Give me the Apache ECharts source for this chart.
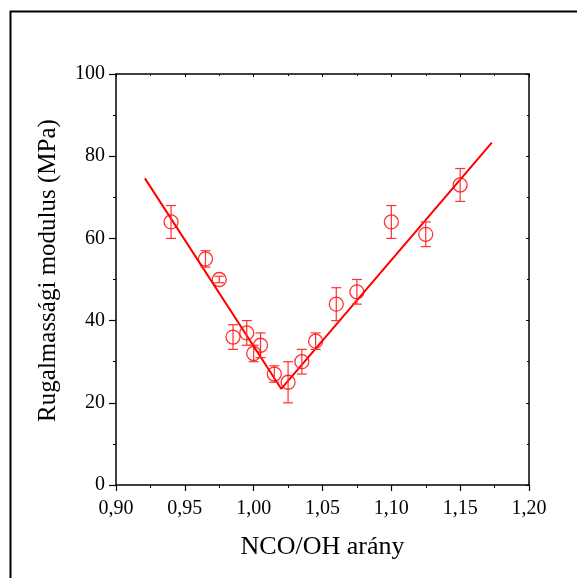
<!DOCTYPE html>
<html>
<head>
<meta charset="utf-8">
<script src="https://cdn.jsdelivr.net/npm/echarts@6/dist/echarts.min.js"></script>
<style>
html,body{margin:0;padding:0;background:#fff;}
#chart{width:577px;height:578px;}
</style>
</head>
<body>
<div id="chart"></div>
<script>
// Data
var ratio   = [0.94, 0.965, 0.975, 0.985, 0.995, 1.000, 1.005, 1.015, 1.025, 1.035, 1.045, 1.060, 1.075, 1.100, 1.125, 1.150];
var modulus = [64, 55, 50, 36, 37, 32, 34, 27, 25, 30, 35, 44, 47, 64, 61, 73];
var errors  = [4, 2, 0.8, 3, 3, 2, 3, 2, 5, 3, 2, 4, 3, 4, 3, 4];
var fitX = [0.921, 1.020, 1.173];
var fitY = [74.6, 23.4, 83.3];
var xTicks = [0.90, 0.95, 1.00, 1.05, 1.10, 1.15, 1.20];
var yTicks = [0, 20, 40, 60, 80, 100];

var font = 'Liberation Serif';
var red = '#ff0000';

var pts = ratio.map(function (x, i) { return [x, modulus[i]]; });
var errData = ratio.map(function (x, i) { return [x, modulus[i] - errors[i], modulus[i] + errors[i]]; });
var fitData = fitX.map(function (x, i) { return [x, fitY[i]]; });

var chart = echarts.init(document.getElementById('chart'), null, {renderer: 'canvas'});

function fmtX(v) { return v.toFixed(2).replace('.', ','); }

var option = {
  backgroundColor: '#fff',
  animation: false,
  grid: {left: 116, right: 48, top: 74, bottom: 93, containLabel: false},
  graphic: [{
    type: 'rect', left: 8, top: 9,
    shape: {x: 0, y: 0, width: 640, height: 640},
    style: {fill: 'none', stroke: '#000', lineWidth: 2},
    silent: true, z: 100
  }],
  xAxis: [{
    type: 'value', min: 0.9, max: 1.2, interval: 0.05, position: 'bottom',
    name: 'NCO/OH arány', nameLocation: 'middle', nameGap: 49,
    nameTextStyle: {fontFamily: font, fontSize: 26, color: '#000'},
    axisLine: {show: true, lineStyle: {color: '#000', width: 1.5}},
    axisTick: {show: true, length: 6, lineStyle: {color: '#000', width: 1.2}},
    minorTick: {show: true, splitNumber: 2, length: 3, lineStyle: {color: '#000', width: 1}},
    axisLabel: {fontFamily: font, fontSize: 20, color: '#000', margin: 14,
      formatter: function (v) { return fmtX(v); }},
    splitLine: {show: false}, minorSplitLine: {show: false}
  }, {
    type: 'value', min: 0.9, max: 1.2, interval: 0.05, position: 'top',
    axisLine: {show: true, onZero: false, lineStyle: {color: '#000', width: 1.5}},
    axisTick: {show: true, inside: true, length: 3, lineStyle: {color: '#000', width: 1}},
    minorTick: {show: true, splitNumber: 2, length: 2, lineStyle: {color: '#000', width: 1}},
    axisLabel: {show: false}, splitLine: {show: false}
  }],
  yAxis: [{
    type: 'value', min: 0, max: 100, interval: 20, position: 'left',
    name: 'Rugalmassági modulus (MPa)', nameLocation: 'middle', nameGap: 55,
    nameTextStyle: {fontFamily: font, fontSize: 25, color: '#000', padding: [0, 0, 0, 18]},
    axisLine: {show: true, lineStyle: {color: '#000', width: 1.5}},
    axisTick: {show: true, length: 7, lineStyle: {color: '#000', width: 1.2}},
    minorTick: {show: true, splitNumber: 2, length: 3, lineStyle: {color: '#000', width: 1}},
    axisLabel: {fontFamily: font, fontSize: 20, color: '#000', margin: 11},
    splitLine: {show: false}, minorSplitLine: {show: false}
  }, {
    type: 'value', min: 0, max: 100, interval: 20, position: 'right',
    axisLine: {show: true, onZero: false, lineStyle: {color: '#000', width: 1.5}},
    axisTick: {show: true, inside: true, length: 3, lineStyle: {color: '#000', width: 1}},
    minorTick: {show: true, splitNumber: 2, length: 2, lineStyle: {color: '#000', width: 1}},
    axisLabel: {show: false}, splitLine: {show: false}
  }],
  series: [{
    type: 'line', data: fitData, xAxisIndex: 0, yAxisIndex: 0,
    symbol: 'none', lineStyle: {color: red, width: 2}, z: 3
  }, {
    type: 'custom', xAxisIndex: 0, yAxisIndex: 0, data: errData,
    renderItem: function (params, api) {
      var x = api.value(0);
      var lo = api.coord([x, api.value(1)]);
      var hi = api.coord([x, api.value(2)]);
      var cw = 5;
      var st = {stroke: '#ff3030', lineWidth: 1.2};
      return {type: 'group', children: [
        {type: 'line', shape: {x1: lo[0], y1: lo[1], x2: hi[0], y2: hi[1]}, style: st},
        {type: 'line', shape: {x1: lo[0] - cw, y1: lo[1], x2: lo[0] + cw, y2: lo[1]}, style: st},
        {type: 'line', shape: {x1: hi[0] - cw, y1: hi[1], x2: hi[0] + cw, y2: hi[1]}, style: st}
      ]};
    }, z: 4
  }, {
    type: 'scatter', data: pts, xAxisIndex: 0, yAxisIndex: 0,
    symbol: 'circle', symbolSize: 14,
    itemStyle: {color: 'rgba(255,255,255,0)', borderColor: red, borderWidth: 1.3}, z: 5
  }]
};
chart.setOption(option);
</script>
</body>
</html>
